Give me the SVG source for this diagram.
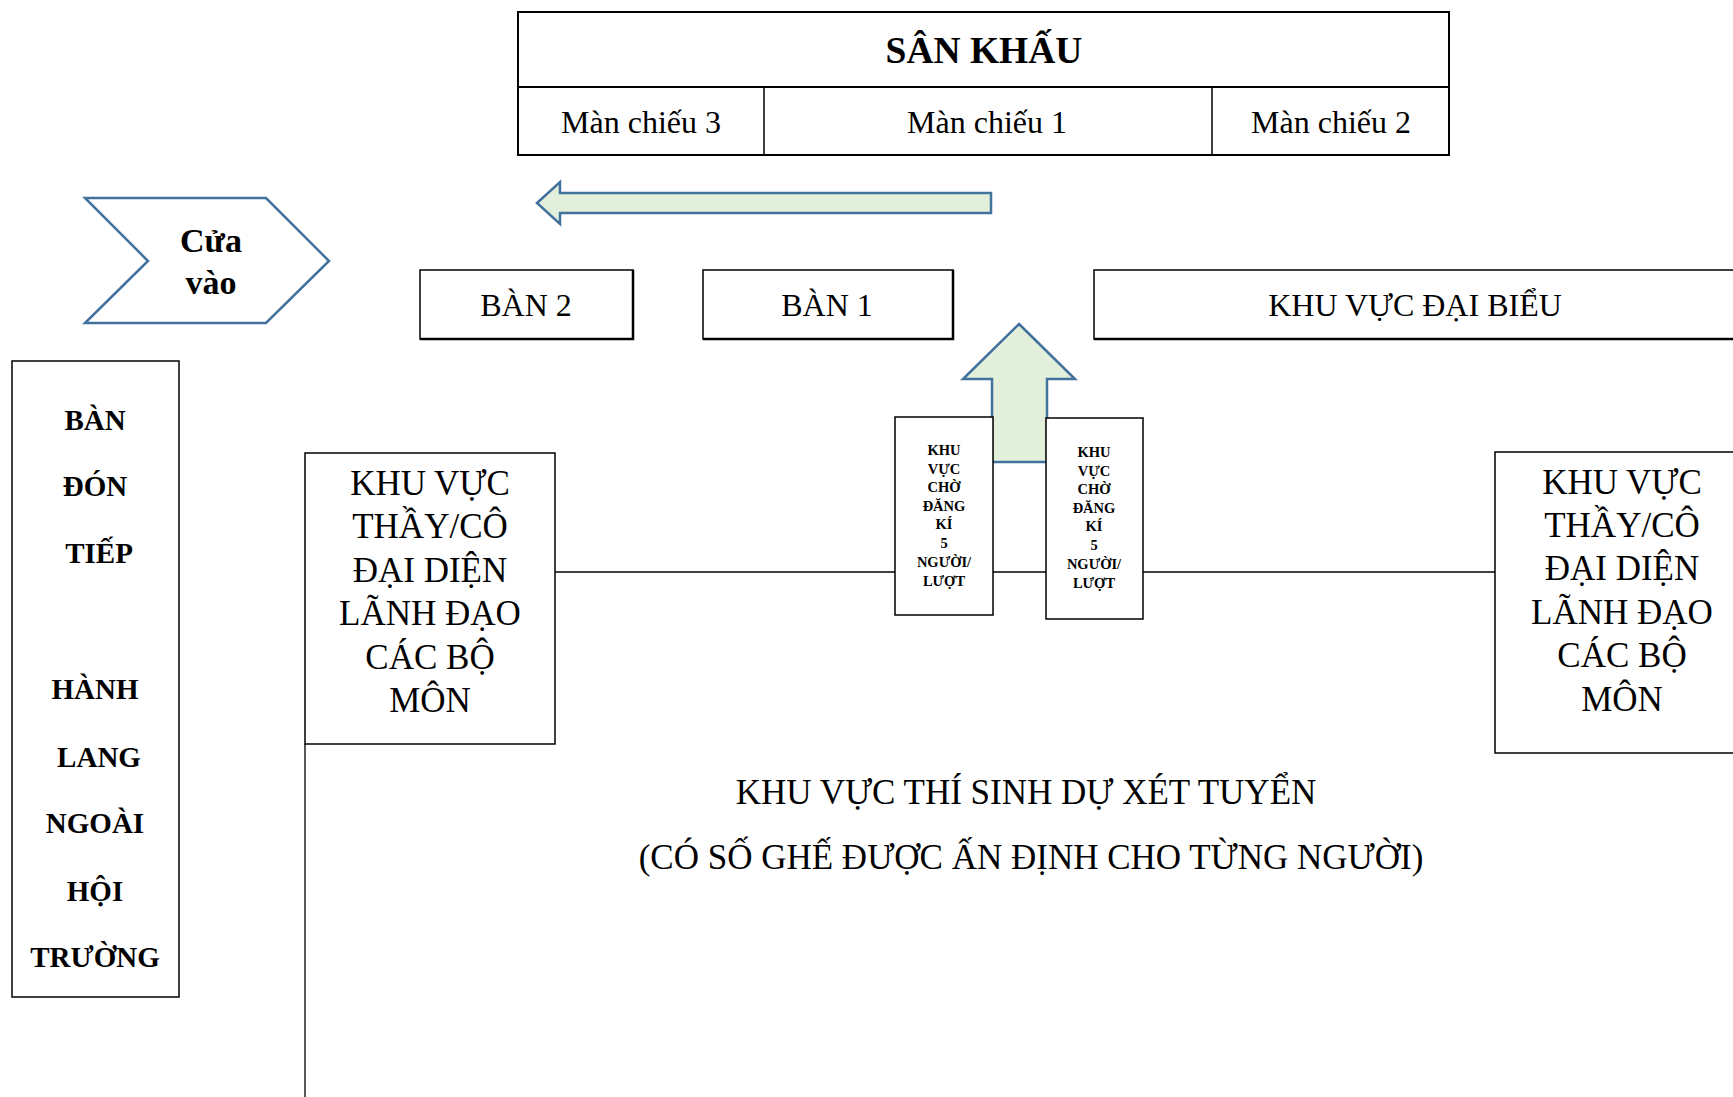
<svg xmlns="http://www.w3.org/2000/svg" width="1733" height="1097" viewBox="0 0 1733 1097">
<style>
.t{font-family:"Liberation Serif","Times New Roman",serif;fill:#000;text-anchor:middle}
.b{font-weight:bold}
.box{fill:#fff;stroke:#000;stroke-width:1.5}
.thick{stroke:#000;stroke-width:2.5;fill:none}
.arrow{fill:#E2EFDA;stroke:#41719C;stroke-width:2.5;stroke-linejoin:miter}
.line{stroke:#000;stroke-width:1.3;fill:none}
</style>
<rect width="1733" height="1097" fill="#fff"/>
<g id="connectors">
<line class="line" x1="555" y1="572" x2="895" y2="572"/>
<line class="line" x1="992" y1="572" x2="1046" y2="572"/>
<line class="line" x1="1143" y1="572" x2="1495" y2="572"/>
<line class="line" x1="305" y1="744" x2="305" y2="1097"/>
</g>
<g id="stage">
<rect x="518" y="12" width="931" height="143" fill="#fff" stroke="#000" stroke-width="2"/>
<line class="thick" x1="518" y1="87" x2="1449" y2="87" style="stroke-width:2"/>
<line class="line" x1="764" y1="87" x2="764" y2="155" style="stroke-width:1.5"/>
<line class="line" x1="1212" y1="87" x2="1212" y2="155" style="stroke-width:1.5"/>
<text class="t b" x="984" y="63" font-size="37.5">SÂN KHẤU</text>
<text class="t" x="641" y="133" font-size="32">Màn chiếu 3</text>
<text class="t" x="987" y="133" font-size="32">Màn chiếu 1</text>
<text class="t" x="1331" y="133" font-size="32">Màn chiếu 2</text>
</g>
<g id="left-arrow">
<polygon class="arrow" points="537,203 560,182 560,193 991,193 991,213 560,213 560,224"/>
</g>
<g id="entrance">
<polygon points="85,198 266,198 329,261 266,323 85,323 148,261" fill="#fff" stroke="#41719C" stroke-width="2.5"/>
<text class="t b" x="211" y="252" font-size="34">Cửa</text>
<text class="t b" x="211" y="294" font-size="34">vào</text>
</g>
<g id="ban2">
<rect class="box" x="420" y="270" width="213" height="69"/>
<polyline class="thick" points="633,270 633,339 420,339"/>
<text class="t" x="526" y="316" font-size="32">BÀN 2</text>
</g>
<g id="ban1">
<rect class="box" x="703" y="270" width="250" height="69"/>
<polyline class="thick" points="953,270 953,339 703,339"/>
<text class="t" x="827" y="316" font-size="32">BÀN 1</text>
</g>
<g id="dai-bieu">
<rect class="box" x="1094" y="270" width="660" height="69"/>
<line class="thick" x1="1094" y1="339" x2="1733" y2="339"/>
<text class="t" x="1415" y="316" font-size="32">KHU VỰC ĐẠI BIỂU</text>
</g>
<g id="up-arrow">
<polygon class="arrow" points="1019,324 1075,379 1047,379 1047,462 992,462 992,379 963,379"/>
</g>
<g id="cho-1">
<rect class="box" x="895" y="417" width="98" height="198"/>
<g class="t b" font-size="14.5">
<text x="944" y="455">KHU</text>
<text x="944" y="474">VỰC</text>
<text x="944" y="492">CHỜ</text>
<text x="944" y="511">ĐĂNG</text>
<text x="944" y="529">KÍ</text>
<text x="944" y="548">5</text>
<text x="944" y="567">NGƯỜI/</text>
<text x="944" y="586">LƯỢT</text>
</g>
</g>
<g id="cho-2">
<rect class="box" x="1046" y="418" width="97" height="201"/>
<g class="t b" font-size="14.5">
<text x="1094" y="457">KHU</text>
<text x="1094" y="476">VỰC</text>
<text x="1094" y="494">CHỜ</text>
<text x="1094" y="513">ĐĂNG</text>
<text x="1094" y="531">KÍ</text>
<text x="1094" y="550">5</text>
<text x="1094" y="569">NGƯỜI/</text>
<text x="1094" y="588">LƯỢT</text>
</g>
</g>
<g id="thay-co-left">
<rect class="box" x="305" y="453" width="250" height="291"/>
<g class="t" font-size="35">
<text x="430" y="495">KHU VỰC</text>
<text x="430" y="538">THẦY/CÔ</text>
<text x="430" y="582">ĐẠI DIỆN</text>
<text x="430" y="625">LÃNH ĐẠO</text>
<text x="430" y="669">CÁC BỘ</text>
<text x="430" y="712">MÔN</text>
</g>
</g>
<g id="thay-co-right">
<rect class="box" x="1495" y="452" width="260" height="301"/>
<g class="t" font-size="35">
<text x="1622" y="494">KHU VỰC</text>
<text x="1622" y="537">THẦY/CÔ</text>
<text x="1622" y="580">ĐẠI DIỆN</text>
<text x="1622" y="624">LÃNH ĐẠO</text>
<text x="1622" y="667">CÁC BỘ</text>
<text x="1622" y="711">MÔN</text>
</g>
</g>
<g id="don-tiep">
<rect class="box" x="12" y="361" width="167" height="636"/>
<g class="t b" font-size="29">
<text x="95" y="430">BÀN</text>
<text x="95" y="496">ĐÓN</text>
<text x="99" y="563">TIẾP</text>
<text x="95" y="699">HÀNH</text>
<text x="99" y="767">LANG</text>
<text x="95" y="833">NGOÀI</text>
<text x="95" y="901">HỘI</text>
<text x="95" y="967">TRƯỜNG</text>
</g>
</g>
<g id="thi-sinh">
<text class="t" x="1026" y="804" font-size="35">KHU VỰC THÍ SINH DỰ XÉT TUYỂN</text>
<text class="t" x="1031" y="869" font-size="35">(CÓ SỐ GHẾ ĐƯỢC ẤN ĐỊNH CHO TỪNG NGƯỜI)</text>
</g>
</svg>
